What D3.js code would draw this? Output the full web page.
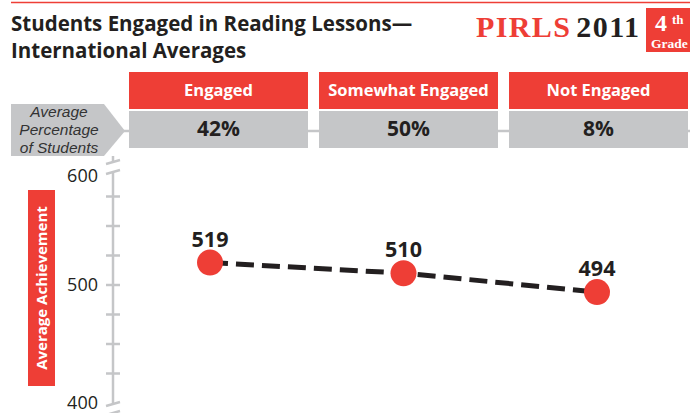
<html>
  <head>
    <title>Students Engaged in Reading Lessons</title>
    <meta charset="utf-8" />
    <script src="https://cdnjs.cloudflare.com/ajax/libs/d3/7.6.1/d3.min.js"></script>
    <style>
      body { margin: 0; background: #fff; }
      svg { display: block; font-family: "Open Sans", "Noto Sans", sans-serif; }
    </style>
  </head>
  <body>
    <svg width="690" height="413"></svg>
  </body>

  <script>
    let categories = ["Engaged", "Somewhat Engaged", "Not Engaged"];
    let percents = [42, 50, 8];
    let achievement = [519, 510, 494];
    let majorTicks = [400, 500, 600];
    let minorTicks = [425, 450, 475, 525, 550, 575];

    let red = "#ee3e36";
    let gray = "#c5c6c8";
    let ink = "#231f20";

    let svg = d3.select("svg");

    // header
    svg.append("line").attr("x1", 11).attr("x2", 690).attr("y1", 2.5).attr("y2", 2.5)
      .style("stroke", red).style("stroke-width", 1.5);
    svg.append("text").attr("x", 11).attr("y", 31).text("Students Engaged in Reading Lessons—")
      .style("font-size", "20.5px").style("font-weight", "bold").style("fill", ink);
    svg.append("text").attr("x", 11).attr("y", 58).text("International Averages")
      .style("font-size", "20.5px").style("font-weight", "bold").style("fill", ink);

    let logo = svg.append("text").attr("x", 476).attr("y", 37)
      .style("font-family", "'Liberation Serif', serif").style("font-weight", "bold")
      .style("font-size", "30px").style("letter-spacing", "1.4px");
    logo.append("tspan").text("PIRLS").style("fill", red);
    logo.append("tspan").attr("dx", 5).text("2011").style("fill", ink);
    svg.append("rect").attr("x", 646).attr("y", 8).attr("width", 44).attr("height", 44).style("fill", red);
    let grade = svg.append("g").style("font-family", "'Liberation Serif', serif").style("font-weight", "bold").style("fill", "#fff");
    grade.append("text").attr("x", 655).attr("y", 31).text("4").style("font-size", "24px");
    grade.append("text").attr("x", 672).attr("y", 24).text("th").style("font-size", "13px");
    grade.append("text").attr("x", 651).attr("y", 48).text("Grade").style("font-size", "13.5px");

    // category boxes
    let xBand = d3.scaleBand().domain(categories).range([129, 688]).paddingInner(0.058);
    let xPoint = d3.scalePoint().domain(categories).range([210, 597]);

    svg.append("line").attr("x1", 120).attr("x2", 690).attr("y1", 131).attr("y2", 131)
      .style("stroke", gray).style("stroke-width", 2.5);

    svg.append("path").attr("d", "M11,104 L104,104 L125,131 L104,156 L11,156 Z").style("fill", gray);
    let lab = svg.append("text").style("font-family", "'Liberation Sans', sans-serif")
      .style("font-style", "italic").style("font-size", "15.5px")
      .style("fill", "#333").attr("text-anchor", "middle");
    lab.append("tspan").attr("x", 59).attr("y", 117).text("Average");
    lab.append("tspan").attr("x", 59).attr("y", 135).text("Percentage");
    lab.append("tspan").attr("x", 59).attr("y", 153).text("of Students");

    let boxes = svg.selectAll("g.box").data(categories).enter().append("g").attr("class", "box")
      .attr("transform", (d) => `translate(${xBand(d)},0)`);
    boxes.append("rect").attr("y", 72).attr("height", 37).attr("width", xBand.bandwidth()).style("fill", red);
    boxes.append("rect").attr("y", 111).attr("height", 37).attr("width", xBand.bandwidth()).style("fill", gray);
    boxes.append("text").attr("x", xBand.bandwidth() / 2).attr("y", 96).attr("text-anchor", "middle")
      .text((d) => d).style("fill", "#fff").style("font-weight", "bold").style("font-size", "16.5px");
    boxes.append("text").attr("x", xBand.bandwidth() / 2).attr("y", 136).attr("text-anchor", "middle")
      .text((d, i) => percents[i] + "%").style("fill", ink).style("font-weight", "bold").style("font-size", "21px");

    // y axis
    let y = d3.scaleLinear().domain([400, 600]).range([403, 167]);
    let axis = svg.append("g").style("stroke", gray).style("stroke-width", 2.5).style("fill", "none");
    let topBreak = y(600) + 5;
    let botBreak = y(400) + 1;
    axis.append("line").attr("x1", 113).attr("x2", 113).attr("y1", 156).attr("y2", topBreak - 10);
    axis.append("line").attr("x1", 113).attr("x2", 113).attr("y1", topBreak).attr("y2", botBreak);
    [topBreak - 10, topBreak, botBreak, botBreak + 9].forEach((b) => {
      axis.append("line").attr("x1", 106).attr("x2", 120).attr("y1", b + 2).attr("y2", b - 2);
    });
    axis.selectAll("line.tick").data(minorTicks.concat([500])).enter().append("line").attr("class", "tick")
      .attr("x1", 106).attr("x2", 120).attr("y1", (d) => y(d)).attr("y2", (d) => y(d));

    svg.selectAll("text.ylab").data(majorTicks).enter().append("text").attr("class", "ylab")
      .attr("x", 98).attr("y", (d) => (d === 600 ? y(d) + 9 : y(d))).attr("dy", "0.35em")
      .attr("text-anchor", "end").text((d) => d)
      .style("font-size", "18px").style("fill", ink);

    svg.append("rect").attr("x", 28).attr("y", 190).attr("width", 27).attr("height", 196).style("fill", red);
    svg.append("text").attr("transform", "translate(47,288) rotate(-90)").attr("text-anchor", "middle")
      .text("Average Achievement").style("fill", "#fff").style("font-weight", "bold").style("font-size", "15px");

    // line + points
    let line = d3.line().x((d, i) => xPoint(categories[i])).y((d) => y(d));
    svg.append("path").attr("d", line(achievement)).style("fill", "none").style("stroke", ink)
      .style("stroke-width", 5).style("stroke-dasharray", "18,8");
    svg.selectAll("circle.pt").data(achievement).enter().append("circle").attr("class", "pt")
      .attr("cx", (d, i) => xPoint(categories[i])).attr("cy", (d) => y(d)).attr("r", 13).style("fill", red);
    svg.selectAll("text.val").data(achievement).enter().append("text").attr("class", "val")
      .attr("x", (d, i) => xPoint(categories[i])).attr("y", (d) => y(d) - 16).attr("text-anchor", "middle")
      .text((d) => d).style("font-weight", "bold").style("font-size", "21.5px").style("fill", ink);
  </script>
</html>
